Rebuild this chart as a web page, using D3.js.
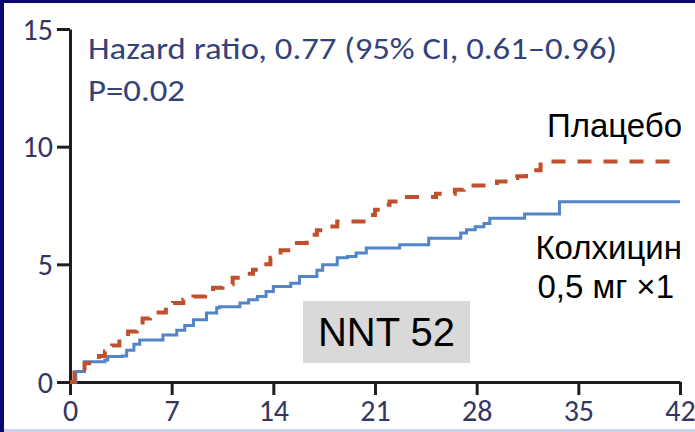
<!DOCTYPE html>
<html>
<head>
<meta charset="utf-8">
<script src="https://cdn.jsdelivr.net/npm/d3@7"></script>
<style>
  html, body { margin: 0; padding: 0; background: #0a0a6e; }
  svg { display: block; }
</style>
</head>
<body>
<svg id="chart" width="695" height="432"></svg>
<script>
// Cumulative incidence (%) by day — Kaplan–Meier steps [day, percent]
const placeboSteps = [
  [0, 0], [0.3, 0.4], [1.0, 0.8], [1.6, 0.86], [2.0, 1.1], [2.4, 1.3], [2.9, 1.55],
  [3.4, 1.87], [4.0, 2.15], [4.6, 2.43], [5.0, 2.7], [5.5, 2.95], [6.6, 3.2],
  [7.1, 3.36], [7.8, 3.5], [8.5, 3.63], [9.3, 3.8], [9.85, 4.0], [10.5, 4.15],
  [11.2, 4.43], [11.9, 4.6], [12.6, 4.77], [13.2, 5.0], [13.8, 5.28], [14.5, 5.6],
  [15.2, 5.91], [16.3, 6.26], [17.0, 6.45], [17.7, 6.61], [18.4, 6.82], [20.6, 7.1],
  [21.0, 7.32], [21.6, 7.53], [22.0, 7.67], [23.2, 7.86], [25.2, 8.0], [26.5, 8.17],
  [27.1, 8.35], [29.4, 8.52], [30.3, 8.67], [30.8, 8.74], [31.4, 8.85], [31.9, 9.0],
  [32.4, 9.37], [42, 9.37]
];
const colchicineSteps = [
  [0, 0], [0.4, 0.45], [1.0, 0.86], [2.4, 0.94], [2.6, 1.08], [3.6, 1.1], [3.9, 1.35],
  [4.4, 1.6], [4.8, 1.79], [6.0, 1.79], [6.4, 2.0], [7.35, 2.2], [7.9, 2.4], [8.5, 2.64],
  [9.4, 2.93], [10.1, 3.15], [10.3, 3.2], [11.7, 3.36], [12.3, 3.5], [12.9, 3.63],
  [13.5, 3.85], [14.0, 4.06], [15.2, 4.2], [15.8, 4.48], [17.0, 4.75], [17.4, 4.98],
  [18.4, 5.28], [19.1, 5.33], [19.7, 5.48], [20.4, 5.69], [22.7, 5.83], [24.7, 6.11],
  [26.9, 6.33], [27.3, 6.47], [27.9, 6.6], [28.5, 6.74], [28.9, 6.96], [31.3, 7.14],
  [33.7, 7.66], [42, 7.66]
];
const xTicks = [0, 7, 14, 21, 28, 35, 42];
const yTicks = [0, 5, 10, 15];
const statsLines = ["Hazard ratio, 0.77 (95% CI, 0.61–0.96)", "P=0.02"];
const seriesLabels = ["Плацебо", "Колхицин", "0,5 мг ×1"];
const nntLabel = "NNT 52";

const svg = d3.select("#chart");

// white panel inside the navy frame
svg.append("rect").attr("x", 4).attr("y", 3).attr("width", 691).attr("height", 426).attr("fill", "#ffffff");
svg.append("rect").attr("x", 4).attr("y", 429).attr("width", 691).attr("height", 3).attr("fill", "#cfd0ea");

const x = d3.scaleLinear().domain([0, 42]).range([70, 680]);
const y = d3.scaleLinear().domain([0, 15]).range([382, 29]);

const tickFont = "Carlito, Lato, sans-serif";
const tickColor = "#35365f";

// y axis
const gy = svg.append("g").attr("transform", "translate(70,0)")
  .call(d3.axisLeft(y).tickValues(yTicks).tickSize(13).tickSizeOuter(0).tickPadding(4));
// x axis
const gx = svg.append("g").attr("transform", "translate(0,382)")
  .call(d3.axisBottom(x).tickValues(xTicks).tickSize(13).tickSizeOuter(0).tickPadding(6));

[gx, gy].forEach(g => {
  g.select(".domain").attr("stroke", "#1e1e1e").attr("stroke-width", 3);
  g.selectAll(".tick line").attr("stroke", "#1e1e1e").attr("stroke-width", 3);
  g.selectAll(".tick text").attr("fill", tickColor).attr("font-family", tickFont)
    .attr("font-size", 30).attr("font-weight", 500);
});
gy.selectAll(".tick text").attr("dy", "0.34em");
gx.selectAll(".tick text").attr("dy", "0.68em");

// survival curves
const line = d3.line().x(d => x(d[0])).y(d => y(d[1])).curve(d3.curveStepAfter);

svg.append("path").datum(colchicineSteps)
  .attr("d", line).attr("fill", "none")
  .attr("stroke", "#5284c8").attr("stroke-width", 3);

svg.append("path").datum(placeboSteps)
  .attr("d", line).attr("fill", "none")
  .attr("stroke", "#c0502c").attr("stroke-width", 4)
  .attr("stroke-dasharray", "14,12");

// statistics
svg.append("text").attr("x", 88).attr("y", 59)
  .attr("font-family", tickFont).attr("font-size", 31).attr("font-weight", 500)
  .attr("fill", "#34427a").attr("textLength", 529).attr("lengthAdjust", "spacingAndGlyphs")
  .text(statsLines[0]);
svg.append("text").attr("x", 88).attr("y", 101)
  .attr("font-family", tickFont).attr("font-size", 31).attr("font-weight", 500)
  .attr("fill", "#34427a").attr("textLength", 97).attr("lengthAdjust", "spacingAndGlyphs")
  .text(statsLines[1]);

// series labels
const labelFont = "'Liberation Sans', Arial, sans-serif";
svg.append("text").attr("x", 682).attr("y", 137).attr("text-anchor", "end")
  .attr("font-family", labelFont).attr("font-size", 33).attr("fill", "#000")
  .text(seriesLabels[0]);
svg.append("text").attr("x", 682).attr("y", 259).attr("text-anchor", "end")
  .attr("font-family", labelFont).attr("font-size", 33).attr("fill", "#000")
  .text(seriesLabels[1]);
svg.append("text").attr("x", 674).attr("y", 298).attr("text-anchor", "end")
  .attr("font-family", labelFont).attr("font-size", 33).attr("fill", "#000")
  .text(seriesLabels[2]);

// NNT badge
svg.append("rect").attr("x", 303).attr("y", 301).attr("width", 167).attr("height", 62)
  .attr("fill", "#d9d9d9");
svg.append("text").attr("x", 386.5).attr("y", 346).attr("text-anchor", "middle")
  .attr("font-family", labelFont).attr("font-size", 40).attr("fill", "#000")
  .text(nntLabel);
</script>
</body>
</html>
